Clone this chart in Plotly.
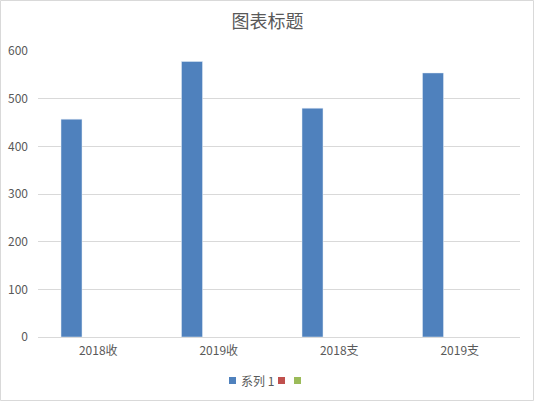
import plotly.graph_objects as go

categories = ["2018收", "2019收", "2018支", "2019支"]
series_names = ["系列 1", "", ""]
series_colors = ["#4F81BD", "#C0504D", "#9BBB59"]
series1 = [457, 578, 480, 554]
series2 = [None, None, None, None]
series3 = [None, None, None, None]
series_values = [series1, series2, series3]

W, H = 535, 401
L, R, T, B = 38, 15, 51, 64
pw, ph = W - L - R, H - T - B

font_family = "Noto Sans CJK SC, Microsoft YaHei, sans-serif"
grey = "#595959"

fig = go.Figure()
for name, color, vals in zip(series_names, series_colors, series_values):
    fig.add_trace(go.Bar(x=categories, y=vals, name=name, marker_color=color, showlegend=False))

# chart border
shapes = [dict(type="rect", xref="paper", yref="paper",
               x0=-(L - 0.5) / pw, x1=(W - L - 1.5) / pw,
               y0=-(B - 0.5) / ph, y1=(ph + T - 0.5) / ph,
               line=dict(color="#D9D9D9", width=1), layer="below")]

# compact Excel-style legend built from the series list
annotations = []
leg_y = 380.5
x = 229
for name, color in zip(series_names, series_colors):
    shapes.append(dict(type="rect", xref="paper", yref="paper",
                       x0=(x - L) / pw, x1=(x + 7 - L) / pw,
                       y0=(H - B - (leg_y + 3.5)) / ph, y1=(H - B - (leg_y - 3.5)) / ph,
                       line=dict(width=0), fillcolor=color))
    x += 7
    if name:
        annotations.append(dict(text=name, xref="paper", yref="paper", showarrow=False,
                                x=(x + 3 - L) / pw, y=(H - B - leg_y) / ph,
                                xanchor="left", yanchor="middle",
                                font=dict(size=12, color=grey, family=font_family)))
        x += 42
    else:
        x += 9

fig.update_layout(
    width=W, height=H,
    margin=dict(l=L, r=R, t=T, b=B, autoexpand=False),
    paper_bgcolor="white", plot_bgcolor="white",
    barmode="group", bargap=0.334, bargroupgap=0.215,
    font=dict(family=font_family, color=grey, size=11),
    title=dict(text="图表标题", x=0.5, xanchor="center", y=1 - 22 / H, yanchor="middle",
               font=dict(size=18, color=grey, family=font_family)),
    showlegend=False,
    xaxis=dict(showgrid=False, showline=True, linecolor="#D9D9D9", linewidth=1,
               ticks="", tickfont=dict(size=12, color=grey), fixedrange=True,
               automargin=False, ticklabelstandoff=3),
    yaxis=dict(range=[0, 600], dtick=100, showgrid=True, gridcolor="#D9D9D9", gridwidth=1,
               zeroline=False, showline=False, ticks="", tickfont=dict(size=12, color=grey),
               ticklabelstandoff=9, fixedrange=True, automargin=False),
    shapes=shapes,
    annotations=annotations,
)

fig.write_html("out.html", config={"displayModeBar": False},
               post_script="document.body.style.margin='0';")
